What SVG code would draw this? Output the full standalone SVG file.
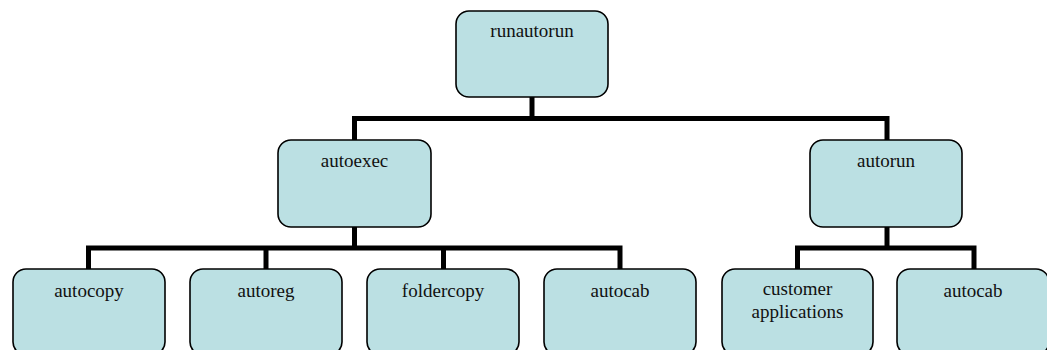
<svg xmlns="http://www.w3.org/2000/svg" width="1047" height="350" viewBox="0 0 1047 350">
<style>
.box{fill:#BBE0E3;stroke:#000;stroke-width:1.6}
.lbl{font-family:"Liberation Serif","Times New Roman",serif;font-size:19px;fill:#111;text-anchor:middle}
.con{fill:none;stroke:#000;stroke-width:5;stroke-linejoin:miter;stroke-linecap:butt}
</style>
<rect width="1047" height="350" fill="#fff"/>
<g id="connectors">
<path class="con" d="M532 97V118.5"/>
<path class="con" d="M354.5 140V118.5H887V140"/>
<path class="con" d="M354.5 227V248"/>
<path class="con" d="M88.5 269V248H620V269"/>
<path class="con" d="M266 248V269"/>
<path class="con" d="M443.5 248V269"/>
<path class="con" d="M887 227V248"/>
<path class="con" d="M797.5 269V248H974V269"/>
</g>
<g id="runautorun"><rect class="box" x="456" y="11" width="152" height="86" rx="13"/><text class="lbl" x="532" y="37">runautorun</text></g>
<g id="autoexec"><rect class="box" x="278" y="140" width="153" height="87" rx="13"/><text class="lbl" x="354.5" y="167">autoexec</text></g>
<g id="autorun"><rect class="box" x="810" y="140" width="152" height="87" rx="13"/><text class="lbl" x="886" y="167">autorun</text></g>
<g id="autocopy"><rect class="box" x="13" y="269" width="152" height="86" rx="13"/><text class="lbl" x="89" y="297">autocopy</text></g>
<g id="autoreg"><rect class="box" x="190" y="269" width="152" height="86" rx="13"/><text class="lbl" x="266" y="297">autoreg</text></g>
<g id="foldercopy"><rect class="box" x="367" y="269" width="152" height="86" rx="13"/><text class="lbl" x="443" y="297">foldercopy</text></g>
<g id="autocab1"><rect class="box" x="544" y="269" width="152" height="86" rx="13"/><text class="lbl" x="620" y="297">autocab</text></g>
<g id="customer-applications"><rect class="box" x="722" y="269" width="151" height="86" rx="13"/><text class="lbl" x="797.5" y="295">customer</text><text class="lbl" x="797.5" y="318">applications</text></g>
<g id="autocab2"><rect class="box" x="897" y="269" width="152" height="86" rx="13"/><text class="lbl" x="973" y="297">autocab</text></g>
</svg>
